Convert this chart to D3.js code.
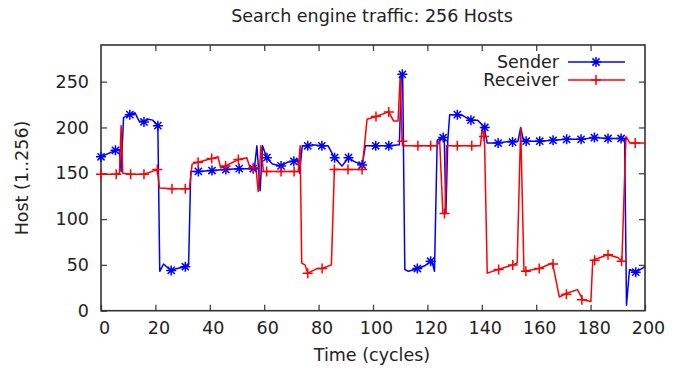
<!DOCTYPE html>
<html>
<head>
<meta charset="utf-8">
<script src="https://cdn.jsdelivr.net/npm/d3@7"></script>
<style>
  body { margin: 0; background: #fff; }
  text { font-family: "DejaVu Sans", sans-serif; fill: #222; }
</style>
</head>
<body>
<svg id="chart" width="680" height="368"></svg>
<script>
// line vertices [time, host]
const senderLine = [[0,168],[5.3,175],[6.7,176],[7.4,152],[8.3,211],[10.8,214],[12.5,216],[14,207],[15.8,206],[17.5,209],[19,208],[20.9,202],[21.6,43],[23,51],[25.6,44],[28,46],[31,48],[32.2,50],[33,152],[35.4,152],[40.7,153],[45.8,154],[50.5,155],[53.6,155],[56.4,155],[57.3,180],[58.5,131],[59.4,180],[60.9,167],[63,160],[66.2,158],[68.5,162],[70.7,163],[72.3,165],[73,150],[74,180],[76,180],[77.6,181],[81.3,180],[83.5,180],[85.8,167],[88.6,158],[91,167],[93,163],[96,159],[97.2,180],[101,180],[105.8,180],[109.7,181],[110.4,258],[110.9,258],[111.7,45],[113,43],[116.5,46],[119,49],[121.2,54],[122,50],[122.6,43],[123.6,186],[125.5,189],[126.2,187],[126.8,106],[127.5,186],[128.2,214],[131,214],[133,213],[135.9,208],[138.4,208],[140.8,201],[142,183],[145.7,183],[150.6,185],[153.3,185],[154.3,200],[155.3,186],[156.3,185],[161.1,185],[166.3,186],[171.2,187],[176.5,187],[181.4,189],[186.3,188],[191.2,188],[192.5,188],[193.2,6],[194.3,45],[196.7,42],[200,48]];

const receiverLine = [[0,149],[5.6,149],[6.8,150],[7.4,202],[8.0,150],[10.9,149],[15.8,149],[20.7,154],[21.5,134],[26.1,133],[31,133],[32.5,133],[33.5,160],[35.7,162],[39.3,165],[40.7,166],[43,168],[44,156],[45.8,158],[50.5,165],[53.6,167],[54.8,156],[57,155],[57.8,130],[58.8,180],[59.7,152],[60.9,152],[66.2,152],[71,152],[72.5,152],[73.2,180],[73.8,52],[75,50],[76,41],[79.4,46],[81.3,46],[84.7,50],[85.8,154],[90.8,154],[96,154],[97.8,209],[101.1,212],[105.8,217],[107.6,207],[109.2,207],[110,256],[110.7,185],[111.5,180],[116.5,180],[121.2,180],[123.5,180],[124.5,186],[125.7,106],[126.5,106],[127,180],[131,180],[136.3,180],[139.5,180],[140.2,201],[141,185],[142,41],[146,45],[151.5,50],[153,52],[154.3,200],[155.5,43],[161.1,46],[166,52],[168.5,15],[171.2,19],[175.2,23],[177.1,12],[180.1,10],[180.8,55],[186.3,61],[190,58],[191.5,54],[193,190],[194.5,183],[196.7,183],[200,183]];

// points that carry a marker
const senderMarks = [[0,168],[5.3,175],[10.6,214],[15.8,206],[20.9,202],[25.8,44],[31,48],[35.8,152],[40.8,153],[45.9,154],[50.8,155],[56,155],[61,167],[66.2,158],[70.9,163],[76,180],[81.2,180],[85.9,167],[91,167],[96,159],[101,180],[105.8,180],[110.8,258],[116.3,46],[121.2,54],[125.8,189],[131,214],[136,208],[141.1,200],[146,183],[151.3,184],[156.3,185],[161.3,185],[166.2,186],[171.2,187],[176.5,187],[181.4,189],[186.4,188],[191.2,188],[196.6,42]];

const receiverMarks = [[0,149],[5.6,149],[10.9,149],[15.8,149],[20.7,154],[26.1,133],[31,133],[35.7,162],[40.7,166],[45.8,158],[50.5,165],[56,156],[60.9,152],[66.2,152],[71,152],[76,41],[81.3,46],[85.8,154],[90.8,154],[96,154],[101.1,212],[105.8,217],[110.8,185],[116.5,180],[121.2,180],[126.3,106],[131,180],[136.3,180],[140.8,190],[146.2,45],[151.4,50],[156.2,43],[161.1,46],[166.2,51],[171.1,18],[176.8,12],[181.5,55],[186.4,61],[191.4,54],[196.4,183]];

const xTicks = [0, 20, 40, 60, 80, 100, 120, 140, 160, 180, 200];
const yTicks = [0, 50, 100, 150, 200, 250];
const seriesNames = ['Sender', 'Receiver'];
const seriesColors = ['#0000ff', '#ff0000'];

const svg = d3.select('#chart');
const plotLeft = 101, plotRight = 645, plotTop = 45, plotBottom = 310.7;

const x = d3.scaleLinear().domain([0, 200]).range([plotLeft, plotRight]);
const y = d3.scaleLinear().domain([0, 290]).range([plotBottom, plotTop]);

// axes (ticks pointing inward, mirrored on top/right)
const fontSize = '17.5px';
const gx = svg.append('g')
    .attr('transform', `translate(0,${plotBottom})`)
    .call(d3.axisBottom(x).tickValues(xTicks).tickSize(-6).tickPadding(11));
gx.selectAll('text').attr('dx', 3).style('font-size', fontSize);

svg.append('g')
    .attr('transform', `translate(0,${plotTop})`)
    .call(d3.axisTop(x).tickValues(xTicks.slice(1, -1)).tickSize(-6).tickFormat(''));

const gy = svg.append('g')
    .attr('transform', `translate(${plotLeft},0)`)
    .call(d3.axisLeft(y).tickValues(yTicks).tickSize(-6).tickPadding(12));
gy.selectAll('text').style('font-size', fontSize);

svg.append('g')
    .attr('transform', `translate(${plotRight},0)`)
    .call(d3.axisRight(y).tickValues(yTicks.slice(1)).tickSize(-6).tickFormat(''));

svg.selectAll('.domain').remove();
svg.selectAll('.tick line').attr('stroke', '#444').attr('stroke-width', 1.3);

// plot frame
svg.append('rect')
    .attr('x', plotLeft).attr('y', plotTop)
    .attr('width', plotRight - plotLeft).attr('height', plotBottom - plotTop)
    .attr('fill', 'none').attr('stroke', '#333').attr('stroke-width', 1.6);

const starPath = 'M-5,0H5M0,-5V5M-3.6,-3.6L3.6,3.6M-3.6,3.6L3.6,-3.6';
const plusPath = 'M-5,0H5M0,-5V5';
const markPaths = [starPath, plusPath];

const line = d3.line().x(d => x(d[0])).y(d => y(d[1]));

[senderLine, receiverLine].forEach((data, i) => {
    svg.append('path')
        .datum(data)
        .attr('fill', 'none')
        .attr('stroke', seriesColors[i])
        .attr('stroke-width', 1.5)
        .attr('stroke-linejoin', 'round')
        .attr('d', line);
});

[senderMarks, receiverMarks].forEach((data, i) => {
    svg.append('g').selectAll('path')
        .data(data)
        .enter()
        .append('path')
        .attr('transform', d => `translate(${x(d[0])},${y(d[1])})`)
        .attr('d', markPaths[i])
        .attr('fill', 'none')
        .attr('stroke', seriesColors[i])
        .attr('stroke-width', 1.5);
});

// legend
const legend = svg.append('g');
seriesNames.forEach((name, i) => {
    const ly = 62 + i * 18;
    legend.append('text')
        .attr('x', 559).attr('y', ly)
        .attr('dy', '0.35em')
        .attr('text-anchor', 'end')
        .style('font-size', fontSize)
        .text(name);
    legend.append('line')
        .attr('x1', 568).attr('x2', 625)
        .attr('y1', ly).attr('y2', ly)
        .attr('stroke', seriesColors[i]).attr('stroke-width', 1.5);
    legend.append('path')
        .attr('transform', `translate(596,${ly})`)
        .attr('d', markPaths[i])
        .attr('fill', 'none')
        .attr('stroke', seriesColors[i]).attr('stroke-width', 1.5);
});

// titles
svg.append('text')
    .attr('x', 372).attr('y', 16)
    .attr('dy', '0.35em')
    .attr('text-anchor', 'middle')
    .style('font-size', fontSize)
    .text('Search engine traffic: 256 Hosts');

svg.append('text')
    .attr('x', 372).attr('y', 355)
    .attr('dy', '0.35em')
    .attr('text-anchor', 'middle')
    .style('font-size', fontSize)
    .text('Time (cycles)');

svg.append('text')
    .attr('transform', 'translate(22,178) rotate(-90)')
    .attr('dy', '0.35em')
    .attr('text-anchor', 'middle')
    .style('font-size', fontSize)
    .text('Host (1..256)');
</script>
</body>
</html>
